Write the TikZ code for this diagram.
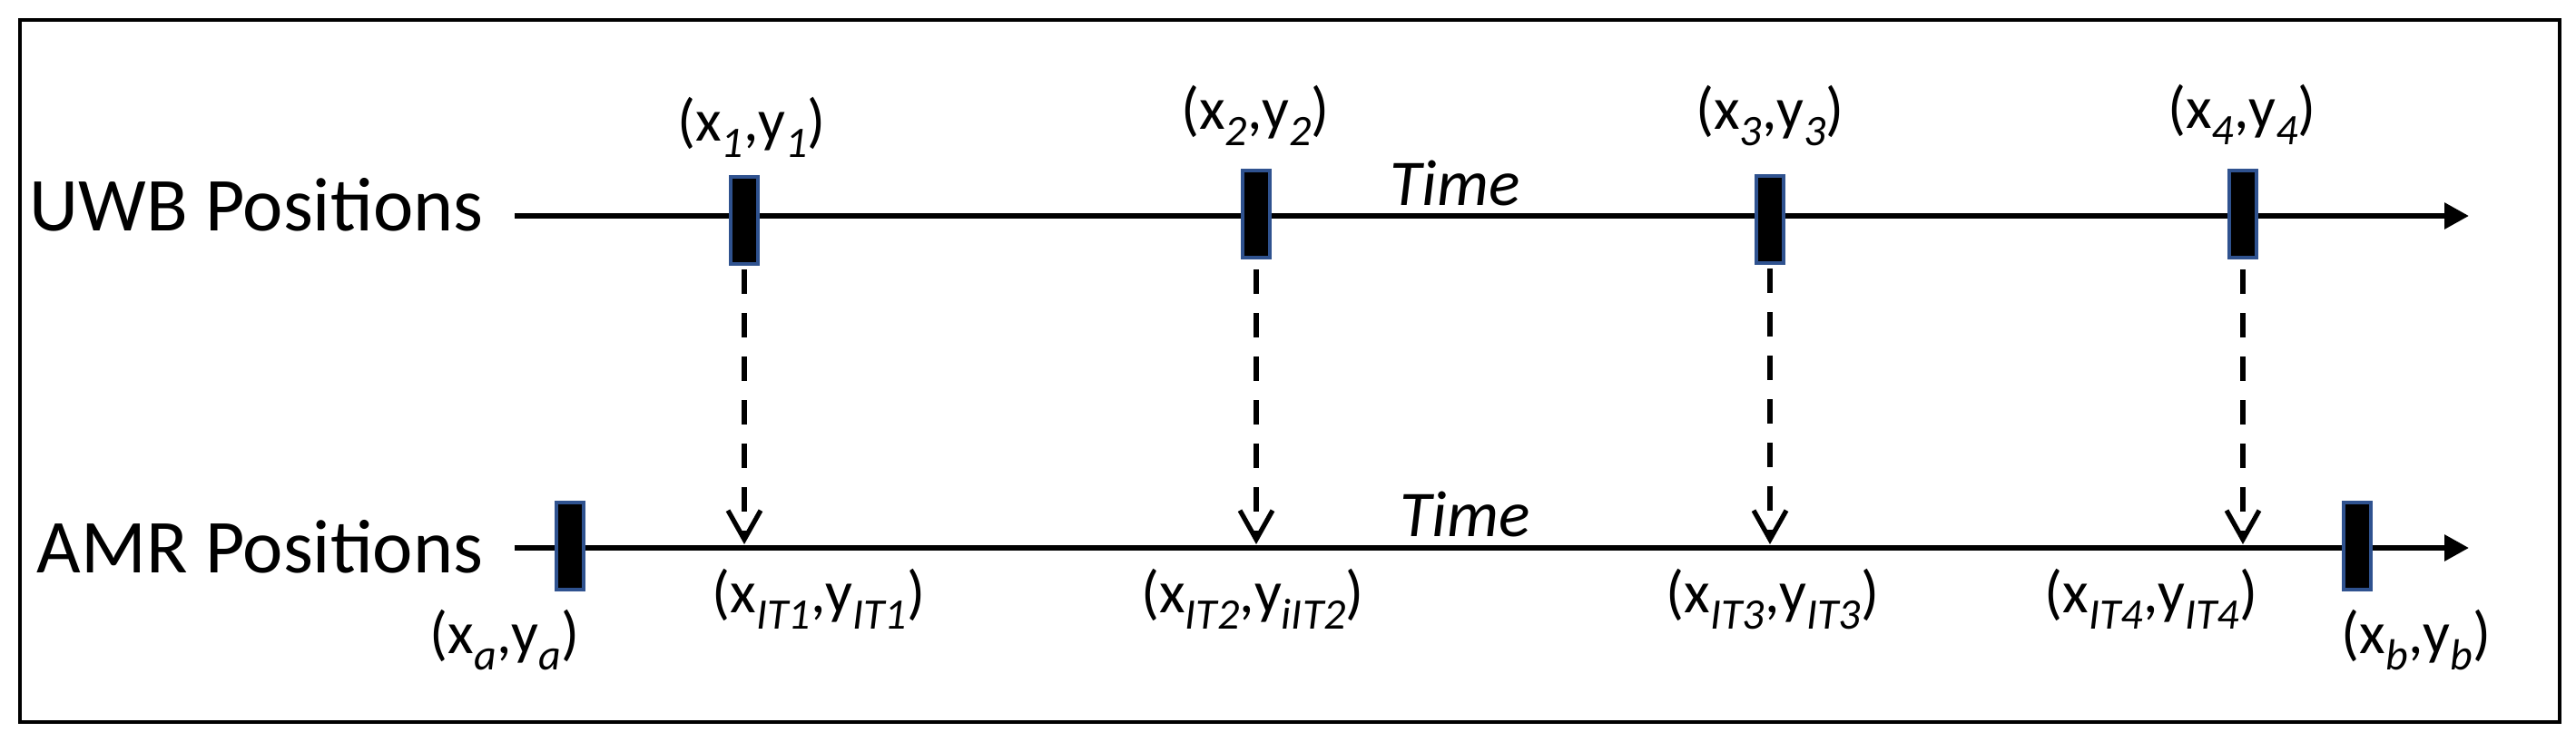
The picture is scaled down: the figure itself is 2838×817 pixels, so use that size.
\documentclass[tikz,border=0pt]{standalone}
\usepackage{fontspec}
\setmainfont{Carlito}
\usetikzlibrary{arrows.meta}
\definecolor{boxblue}{RGB}{47,82,143}
\newcommand{\sbs}[1]{\raisebox{-4.5pt}{\fontsize{12}{12}\selectfont\itshape #1}}
\newcommand{\coordlbl}[2]{(x\sbs{#1},y\sbs{#2})}
\begin{document}
\begin{tikzpicture}[x=0.25pt,y=-0.25pt,
  markbox/.style={rectangle,draw=boxblue,fill=black,line width=1pt,minimum width=7.5pt,minimum height=24pt,inner sep=0pt},
  axisline/.style={line width=1.5pt,-{Triangle[length=6.75pt,width=7pt]}},
  projline/.style={line width=1.3pt,dash pattern=on 6.75pt off 5.25pt,-{Straight Barb[length=8pt,width=9pt]}},
  rowlbl/.style={anchor=base east,inner sep=0pt,font=\fontsize{21}{25}\selectfont},
  timelbl/.style={anchor=base,inner sep=0pt,font=\fontsize{18}{22}\selectfont\itshape},
  ptlbl/.style={anchor=base,inner sep=0pt,font=\fontsize{16.5}{19}\selectfont}]
\useasboundingbox (0,0) rectangle (2838,817);
\draw[line width=1pt] (22,22) rectangle (2820,796);

% row labels
\node[rowlbl] (uwb) at (533,254) {UWB Positions};
\node[rowlbl] (amr) at (533,631) {AMR Positions};

% time axes
\coordinate (us) at (567,238);
\coordinate (ue) at (2720,238);
\coordinate (as) at (567,604);
\coordinate (ae) at (2720,604);
\draw[axisline] (us) -- (ue);
\draw[axisline] (as) -- (ae);

\node[timelbl] (time1) at (1603,226) {Time};
\node[timelbl] (time2) at (1614,591) {Time};

% UWB markers
\node[markbox] (u1) at (820,243) {};
\node[markbox] (u2) at (1384,236) {};
\node[markbox] (u3) at (1950,242) {};
\node[markbox] (u4) at (2471,236) {};
% AMR markers
\node[markbox] (ma) at (628,602) {};
\node[markbox] (mb) at (2597,602) {};

% projection targets
\coordinate (t1) at (820,600);
\coordinate (t2) at (1384,600);
\coordinate (t3) at (1950,600);
\coordinate (t4) at (2471,600);
\draw[projline,shorten <=1pt] (u1.south) -- (t1);
\draw[projline,shorten <=2.75pt] (u2.south) -- (t2);
\draw[projline,shorten <=1pt] (u3.south) -- (t3);
\draw[projline,shorten <=2.75pt] (u4.south) -- (t4);

% top labels
\node[ptlbl] (l1) at (828,155) {\coordlbl{1}{1}};
\node[ptlbl] (l2) at (1383,142) {\coordlbl{2}{2}};
\node[ptlbl] (l3) at (1950,142) {\coordlbl{3}{3}};
\node[ptlbl] (l4) at (2470,141) {\coordlbl{4}{4}};

% bottom labels
\node[ptlbl] (la) at (556,720) {\coordlbl{a}{a}};
\node[ptlbl] (li1) at (902,675) {\coordlbl{IT1}{IT1}};
\node[ptlbl] (li2) at (1380,675) {\coordlbl{IT2}{iIT2}};
\node[ptlbl] (li3) at (1953,675) {\coordlbl{IT3}{IT3}};
\node[ptlbl] (li4) at (2370,675) {\coordlbl{IT4}{IT4}};
\node[ptlbl] (lb) at (2662,720) {\coordlbl{b}{b}};
\end{tikzpicture}
\end{document}
